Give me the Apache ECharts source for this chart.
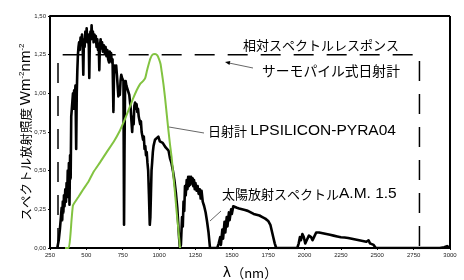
<!DOCTYPE html>
<html>
<head>
<meta charset="utf-8">
<script src="https://cdn.jsdelivr.net/npm/echarts@6/dist/echarts.min.js"></script>
<style>
  html, body { margin: 0; padding: 0; background: #fff; }
  #chart { width: 464px; height: 280px; }
</style>
</head>
<body>
<div id="chart"></div>
<script>
// 太陽放射スペクトル A.M.1.5 [nm, W m-2 nm-1]
const solarSpectrum = [
  [300, 0], [310, 0.05], [318, 0.12], [325, 0.2], [330, 0.26], [334, 0.18], [338, 0.3], [342, 0.23],
  [346, 0.34], [350, 0.27], [355, 0.38], [360, 0.3], [364, 0.42], [368, 0.33], [372, 0.5], [376, 0.36],
  [380, 0.55], [384, 0.28], [388, 0.6], [392, 0.45], [396, 0.85], [400, 0.9], [404, 0.95], [408, 1.0],
  [412, 0.9], [416, 1.02], [420, 0.95], [425, 1.05], [430, 0.64], [434, 1.0], [438, 1.15], [442, 1.25],
  [446, 1.3], [450, 1.33], [455, 1.28], [460, 1.36], [465, 1.32], [470, 1.38], [475, 1.3], [479, 1.12],
  [483, 1.35], [488, 1.3], [493, 1.4], [498, 1.34], [502, 1.42], [507, 1.33], [512, 1.38], [517, 1.3],
  [520, 1.1], [524, 1.34], [528, 1.4], [532, 1.35], [536, 1.44], [540, 1.36], [545, 1.4], [550, 1.33],
  [555, 1.38], [560, 1.34], [565, 1.37], [570, 1.3], [575, 1.35], [580, 1.28], [585, 1.32], [589, 1.15],
  [593, 1.3], [598, 1.35], [603, 1.29], [608, 1.33], [614, 1.27], [620, 1.31], [626, 1.26], [632, 1.3],
  [638, 1.24], [644, 1.28], [650, 1.22], [656, 1.2], [660, 1.27], [665, 1.23], [670, 1.26], [675, 1.2],
  [680, 1.22], [686, 0.88], [690, 1.12], [695, 1.18], [700, 1.14], [705, 1.18], [710, 1.12], [715, 1.05],
  [720, 0.98], [725, 1.02], [730, 0.99], [735, 1.08], [740, 1.12], [745, 1.1], [750, 1.11], [755, 1.08],
  [759, 0.15], [762, 0.6], [766, 1.05], [770, 1.08], [775, 1.05], [780, 1.06], [785, 1.02], [790, 1.03],
  [795, 0.99], [800, 1.0], [805, 0.9], [810, 0.82], [815, 0.75], [820, 0.85], [825, 0.8], [830, 0.92],
  [835, 0.94], [840, 0.9], [845, 0.93], [850, 0.88], [855, 0.9], [860, 0.85], [865, 0.86], [870, 0.8],
  [875, 0.82], [880, 0.75], [885, 0.76], [890, 0.7], [895, 0.72], [900, 0.64], [905, 0.66], [910, 0.6],
  [915, 0.62], [920, 0.55], [925, 0.5], [930, 0.35], [936, 0.15], [940, 0.2], [944, 0.35], [948, 0.5],
  [952, 0.55], [957, 0.62], [962, 0.66], [967, 0.68], [972, 0.7], [978, 0.69], [985, 0.71], [995, 0.72],
  [1005, 0.69], [1015, 0.7], [1025, 0.68], [1035, 0.67], [1045, 0.65], [1055, 0.64], [1065, 0.63],
  [1075, 0.58], [1085, 0.55], [1095, 0.5], [1105, 0.44], [1115, 0.36], [1125, 0.26], [1132, 0.15],
  [1138, 0.06], [1143, 0], [1150, 0.02], [1158, 0.2], [1163, 0.14], [1168, 0.3], [1173, 0.24], [1178, 0.4],
  [1183, 0.34], [1190, 0.44], [1195, 0.38], [1200, 0.46], [1205, 0.4], [1210, 0.46], [1215, 0.41],
  [1220, 0.46], [1225, 0.42], [1230, 0.45], [1235, 0.4], [1240, 0.44], [1245, 0.38], [1250, 0.42],
  [1258, 0.37], [1265, 0.4], [1272, 0.35], [1280, 0.38], [1286, 0.32], [1292, 0.37], [1300, 0.3],
  [1310, 0.27], [1320, 0.23], [1330, 0.17], [1340, 0.1], [1350, 0], [1400, 0], [1410, 0.03],
  [1420, 0.07], [1425, 0.02], [1435, 0.12], [1440, 0.06], [1450, 0.17], [1455, 0.1], [1465, 0.2],
  [1470, 0.14], [1480, 0.23], [1485, 0.18], [1495, 0.25], [1500, 0.22], [1510, 0.27], [1520, 0.265],
  [1535, 0.26], [1550, 0.255], [1570, 0.25], [1590, 0.245], [1610, 0.24], [1630, 0.23], [1650, 0.22],
  [1670, 0.215], [1690, 0.21], [1710, 0.2], [1730, 0.19], [1750, 0.175], [1765, 0.15], [1775, 0.11],
  [1785, 0.07], [1795, 0.03], [1805, 0], [1950, 0], [1960, 0.03], [1968, 0.07], [1975, 0.05],
  [1985, 0.09], [1995, 0.07], [2005, 0.03], [2015, 0.05], [2030, 0.08], [2045, 0.07], [2055, 0.05],
  [2065, 0.07], [2080, 0.1], [2100, 0.1], [2125, 0.095], [2150, 0.09], [2175, 0.085], [2200, 0.08],
  [2225, 0.075], [2250, 0.07], [2275, 0.068], [2300, 0.065], [2325, 0.06], [2350, 0.055], [2375, 0.05],
  [2400, 0.045], [2425, 0.04], [2440, 0.05], [2450, 0.03], [2460, 0.04], [2475, 0.02], [2490, 0],
  [2930, 0], [2940, 0.01], [2960, 0.005], [2980, 0.012], [3000, 0]
];

// 日射計 LPSILICON-PYRA04 の相対感度
const pyranometerResponse = [
  [353, 0], [378, 0], [390, 0.08], [398, 0.18], [406, 0.265], [410, 0.28], [445, 0.33], [479, 0.38],
  [515, 0.43], [548, 0.49], [595, 0.555], [640, 0.62], [690, 0.69], [731, 0.76], [755, 0.81], [777, 0.86],
  [800, 0.915], [823, 0.97], [846, 1.02], [869, 1.06], [891, 1.08], [905, 1.1], [915, 1.14], [926, 1.18],
  [940, 1.225], [955, 1.25], [972, 1.255], [988, 1.245], [1000, 1.22], [1010, 1.19], [1018, 1.14],
  [1030, 1.06], [1041, 0.97], [1052, 0.87], [1063, 0.77], [1075, 0.67], [1087, 0.58], [1098, 0.47],
  [1109, 0.36], [1120, 0.24], [1132, 0.125], [1144, 0]
];

// サーモパイル式日射計の相対スペクトルレスポンス
const thermopileResponse = [[305, 0], [305, 1.25], [2790, 1.25], [2790, 0]];

const xMin = 250, xMax = 3000, xStep = 250;
const yMin = 0, yMax = 1.5, yStep = 0.25;

const FONT = '"Noto Sans CJK JP", sans-serif';
const LATIN = '"Liberation Sans", Arial, sans-serif';

// 和文 13px + 欧文 15.5px
const mixedRich = {
  j: { fontFamily: FONT, fontSize: 13, fill: '#000' },
  e: { fontFamily: LATIN, fontSize: 15.5, fill: '#000' }
};

const chart = echarts.init(document.getElementById('chart'));

chart.setOption({
  animation: false,
  backgroundColor: '#fff',
  grid: { left: 50, right: 14, top: 16, bottom: 32, containLabel: false, outerBoundsMode: 'none' },
  xAxis: {
    type: 'value',
    min: xMin,
    max: xMax,
    interval: xStep,
    name: '{l|λ}{p|（nm）}',
    nameLocation: 'middle',
    nameGap: 18,
    nameMoveOverlap: false,
    nameTextStyle: {
      rich: {
        l: { fontFamily: '"DejaVu Sans", sans-serif', fontSize: 14, color: '#000' },
        p: { fontFamily: FONT, fontSize: 13, color: '#000' }
      }
    },
    axisLine: { onZero: false, lineStyle: { color: '#000', width: 2 } },
    axisTick: { show: true, length: 2, lineStyle: { color: '#000' } },
    axisLabel: {
      fontSize: 6, color: '#222', margin: 4, fontFamily: 'Arial, sans-serif',
      formatter: v => String(v)
    },
    splitLine: { show: false }
  },
  yAxis: {
    type: 'value',
    min: yMin,
    max: yMax,
    interval: yStep,
    name: '{a|スペクトル放射照度 }{b|Wm}{s|-2}{b|nm}{s|-2}',
    nameLocation: 'middle',
    nameGap: 16,
    nameMoveOverlap: false,
    nameRotate: 90,
    nameTextStyle: {
      rich: {
        a: { fontFamily: FONT, fontSize: 12.5, color: '#000', lineHeight: 16 },
        b: { fontFamily: LATIN, fontSize: 15, color: '#000', lineHeight: 16 },
        s: { fontFamily: LATIN, fontSize: 8, color: '#000', verticalAlign: 'top', lineHeight: 16, padding: [0, 0, 7, 0] }
      }
    },
    axisLine: { lineStyle: { color: '#000', width: 2 } },
    axisTick: { show: true, length: 2, lineStyle: { color: '#000' } },
    axisLabel: {
      fontSize: 6, color: '#222', margin: 4, fontFamily: 'Arial, sans-serif',
      formatter: v => v.toFixed(2).replace('.', ',')
    },
    splitLine: { show: false }
  },
  series: [
    {
      name: 'thermopile',
      type: 'line',
      data: thermopileResponse,
      showSymbol: false,
      lineStyle: { color: '#000', width: 1.5, type: [20, 13] },
      z: 1
    },
    {
      name: 'solar',
      type: 'line',
      data: solarSpectrum,
      showSymbol: false,
      lineStyle: { color: '#000', width: 2.6, join: 'round' },
      z: 2
    },
    {
      name: 'pyranometer',
      type: 'line',
      data: pyranometerResponse,
      showSymbol: false,
      smooth: 0.2,
      lineStyle: { color: '#82c341', width: 2 },
      z: 3
    }
  ],
  graphic: [
    // 枠（上・右）
    { type: 'line', shape: { x1: 50, y1: 16, x2: 450, y2: 16 }, style: { stroke: '#000', lineWidth: 2 } },
    { type: 'line', shape: { x1: 450, y1: 16, x2: 450, y2: 248 }, style: { stroke: '#000', lineWidth: 2 } },
    // 注記
    { type: 'text', left: 243, top: 39, style: { text: '相対スペクトルレスポンス', font: '13px ' + FONT, fill: '#000' } },
    { type: 'text', left: 262, top: 64, style: { text: 'サーモパイル式日射計', font: '13.8px ' + FONT, fill: '#000' } },
    { type: 'line', shape: { x1: 253, y1: 68, x2: 229, y2: 63 }, style: { stroke: '#000', lineWidth: 0.6 } },
    { type: 'polygon', shape: { points: [[225, 62], [230.3, 61.1], [229.5, 65]] }, style: { fill: '#000' } },
    {
      type: 'text', left: 208, top: 123,
      style: { text: '{j|日射計} {e|LPSILICON-PYRA04}', rich: mixedRich }
    },
    { type: 'line', shape: { x1: 169, y1: 127, x2: 204, y2: 133 }, style: { stroke: '#000', lineWidth: 0.6 } },
    {
      type: 'text', left: 222, top: 186,
      style: { text: '{j|太陽放射スペクトル}{e|A.M. 1.5}', rich: mixedRich }
    },
    { type: 'line', shape: { x1: 210, y1: 221, x2: 221, y2: 211 }, style: { stroke: '#000', lineWidth: 0.6 } }
  ]
});
</script>
</body>
</html>
